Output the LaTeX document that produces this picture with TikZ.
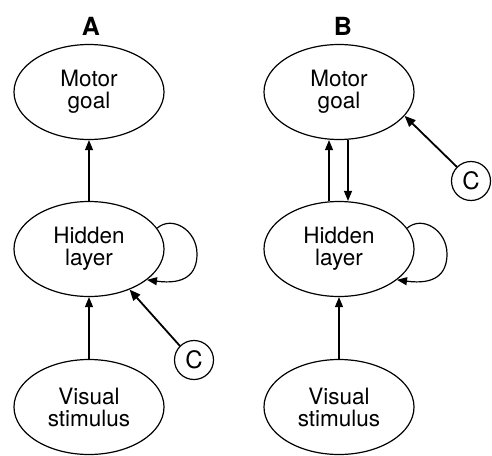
\documentclass[tikz,border=0pt]{standalone}
\usepackage{fontspec}
\setmainfont{TeX Gyre Heros}
\usetikzlibrary{shapes.geometric,arrows.meta}
\begin{document}
\begin{tikzpicture}[x=1pt,y=-1pt,
  layer/.style={draw,ellipse,line width=1.2pt,minimum width=150pt,minimum height=95pt,inner sep=0pt,align=center,font=\fontsize{22.5}{22}\selectfont},
  ctrl/.style={draw,circle,line width=1.2pt,minimum size=39pt,inner sep=0pt,font=\fontsize{24}{24}\selectfont},
  panel/.style={font=\fontsize{25}{25}\selectfont\bfseries},
  arr/.style={line width=1.2pt,-{Triangle[length=10pt,width=8pt]}},
  carr/.style={line width=1.8pt,-{Triangle[length=11pt,width=9pt]}}]
\useasboundingbox (0,0) rectangle (492,455);
% Panel A
\node[panel] (labA) at (91,26) {A};
\node[layer] (mA) at (89,92) {Motor\\goal};
\node[layer] (hA) at (89,249) {Hidden\\layer};
\node[layer] (vA) at (89,407) {Visual\\stimulus};
\node[ctrl] (cA) at (194,360) {C};
\draw[arr] (hA.north) -- (mA.south);
\draw[arr] (vA.north) -- (hA.south);
\draw[arr] (hA.17) .. controls (172,215) and (197,230) .. (197,254)
  .. controls (197,274) and (185,285) .. (hA.-28);
\draw[carr] (cA.135) -- (hA.-45);
% Panel B
\node[panel] (labB) at (343,26) {B};
\node[layer] (mB) at (339,92) {Motor\\goal};
\node[layer] (hB) at (339,249) {Hidden\\layer};
\node[layer] (vB) at (339,407) {Visual\\stimulus};
\node[ctrl] (cB) at (471,181) {C};
\draw[arr] ([xshift=-10pt]hB.north) -- ([xshift=-10pt]mB.south);
\draw[arr] ([xshift=9pt]mB.south) -- ([xshift=9pt]hB.north);
\draw[arr] (vB.north) -- (hB.south);
\draw[arr] (hB.17) .. controls (422,215) and (447,230) .. (447,254)
  .. controls (447,274) and (435,285) .. (hB.-28);
\draw[carr] (cB.135) -- (mB.-20);
\end{tikzpicture}
\end{document}
